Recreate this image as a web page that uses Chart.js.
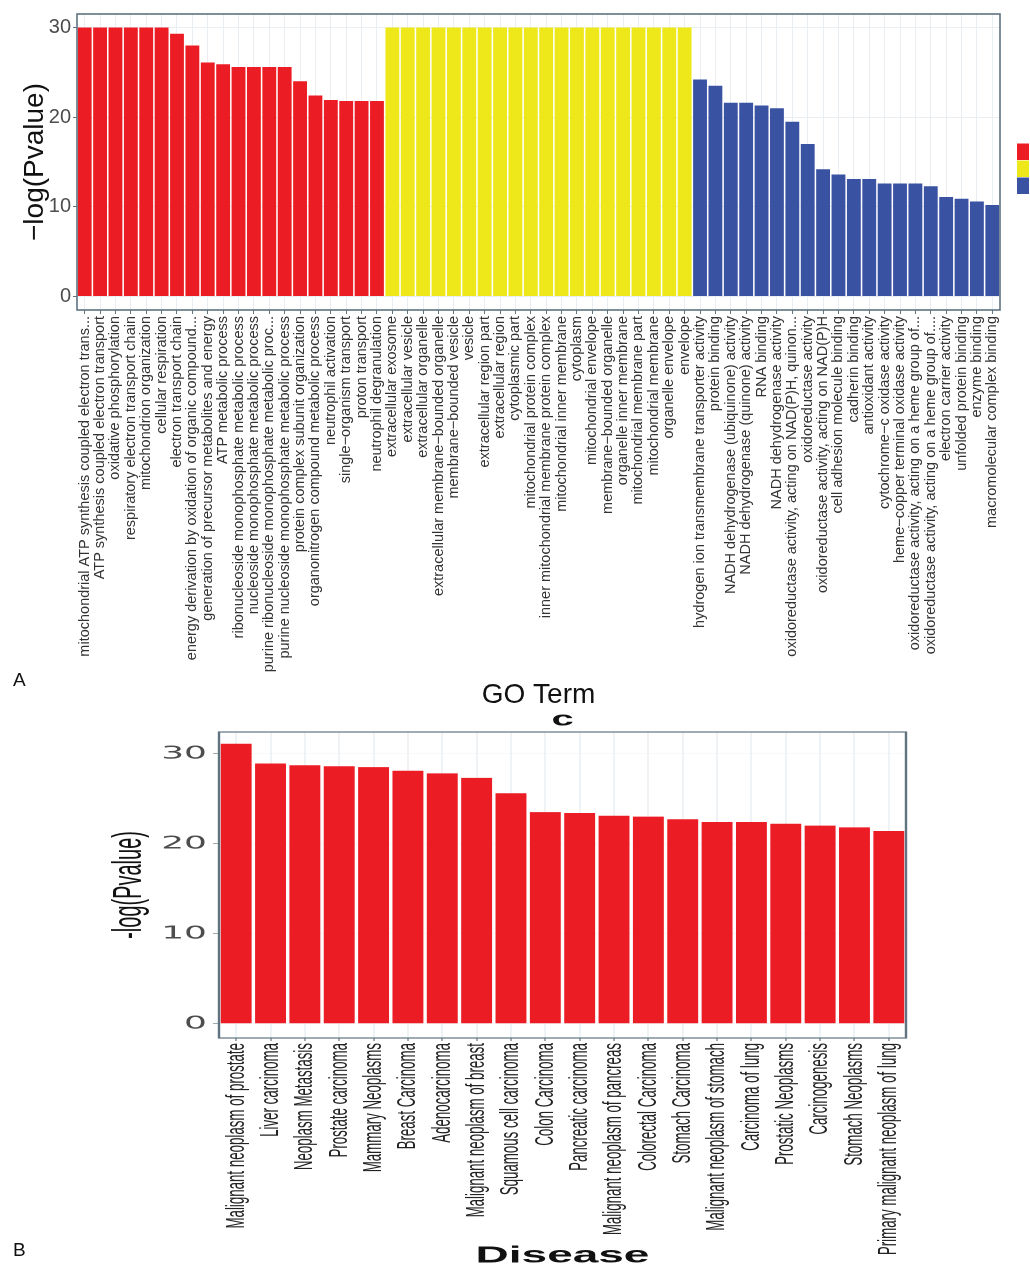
<!DOCTYPE html>
<html>
<head>
<meta charset="utf-8">
<script src="https://cdn.jsdelivr.net/npm/chart.js@4.4.1/dist/chart.umd.min.js"></script>
<style>
  html, body { margin: 0; padding: 0; background: #ffffff; }
  body { width: 1030px; height: 1269px; position: relative; overflow: hidden; font-family: "Liberation Sans", Arial, sans-serif; }
  #goChart { position: absolute; left: 0; top: 0; }
  #diseaseChart { position: absolute; left: 0; top: 698px; transform: scaleX(2); transform-origin: 0 0; }
  .panel-tag { position: absolute; font-size: 19px; color: #111; line-height: 1; }
</style>
</head>
<body>
<canvas id="goChart" width="1030" height="715"></canvas>
<canvas id="diseaseChart" width="515" height="571"></canvas>
<div class="panel-tag" style="left:13px; top:670px;">A</div>
<div class="panel-tag" style="left:13px; top:1240px;">B</div>
<script>
// ---- GO enrichment: biological process ----
const bpTerms = [
  "mitochondrial ATP synthesis coupled electron trans...",
  "ATP synthesis coupled electron transport",
  "oxidative phosphorylation",
  "respiratory electron transport chain",
  "mitochondrion organization",
  "cellular respiration",
  "electron transport chain",
  "energy derivation by oxidation of organic compound...",
  "generation of precursor metabolites and energy",
  "ATP metabolic process",
  "ribonucleoside monophosphate metabolic process",
  "nucleoside monophosphate metabolic process",
  "purine ribonucleoside monophosphate metabolic proc...",
  "purine nucleoside monophosphate metabolic process",
  "protein complex subunit organization",
  "organonitrogen compound metabolic process",
  "neutrophil activation",
  "single\u2212organism transport",
  "proton transport",
  "neutrophil degranulation"
];
const bpValues = [30, 30, 30, 30, 30, 30, 29.3, 28.0, 26.1, 25.9, 25.6, 25.6, 25.6, 25.6, 24.0, 22.4, 21.9, 21.8, 21.8, 21.8];

// ---- GO enrichment: cellular component ----
const ccTerms = [
  "extracellular exosome",
  "extracellular vesicle",
  "extracellular organelle",
  "extracellular membrane\u2212bounded organelle",
  "membrane\u2212bounded vesicle",
  "vesicle",
  "extracellular region part",
  "extracellular region",
  "cytoplasmic part",
  "mitochondrial protein complex",
  "inner mitochondrial membrane protein complex",
  "mitochondrial inner membrane",
  "cytoplasm",
  "mitochondrial envelope",
  "membrane\u2212bounded organelle",
  "organelle inner membrane",
  "mitochondrial membrane part",
  "mitochondrial membrane",
  "organelle envelope",
  "envelope"
];
const ccValues = [30, 30, 30, 30, 30, 30, 30, 30, 30, 30, 30, 30, 30, 30, 30, 30, 30, 30, 30, 30];

// ---- GO enrichment: molecular function ----
const mfTerms = [
  "hydrogen ion transmembrane transporter activity",
  "protein binding",
  "NADH dehydrogenase (ubiquinone) activity",
  "NADH dehydrogenase (quinone) activity",
  "RNA binding",
  "NADH dehydrogenase activity",
  "oxidoreductase activity, acting on NAD(P)H, quinon...",
  "oxidoreductase activity",
  "oxidoreductase activity, acting on NAD(P)H",
  "cell adhesion molecule binding",
  "cadherin binding",
  "antioxidant activity",
  "cytochrome\u2212c oxidase activity",
  "heme\u2212copper terminal oxidase activity",
  "oxidoreductase activity, acting on a heme group of...",
  "oxidoreductase activity, acting on a heme group of....",
  "electron carrier activity",
  "unfolded protein binding",
  "enzyme binding",
  "macromolecular complex binding"
];
const mfValues = [24.2, 23.5, 21.6, 21.6, 21.3, 21.0, 19.5, 17.0, 14.2, 13.6, 13.1, 13.1, 12.6, 12.6, 12.6, 12.3, 11.1, 10.9, 10.6, 10.2];

const groupColors = ["#ec1c24", "#eee81a", "#3a52a2"];
const goTicks = [0, 10, 20, 30];

// ---- Disease enrichment ----
const diseaseNames = [
  "Malignant neoplasm of prostate",
  "Liver carcinoma",
  "Neoplasm Metastasis",
  "Prostate carcinoma",
  "Mammary Neoplasms",
  "Breast Carcinoma",
  "Adenocarcinoma",
  "Malignant neoplasm of breast",
  "Squamous cell carcinoma",
  "Colon Carcinoma",
  "Pancreatic carcinoma",
  "Malignant neoplasm of pancreas",
  "Colorectal Carcinoma",
  "Stomach Carcinoma",
  "Malignant neoplasm of stomach",
  "Carcinoma of lung",
  "Prostatic Neoplasms",
  "Carcinogenesis",
  "Stomach Neoplasms",
  "Primary malignant neoplasm of lung"
];
const diseaseValues = [31.1, 28.9, 28.7, 28.6, 28.5, 28.1, 27.8, 27.3, 25.6, 23.5, 23.4, 23.1, 23.0, 22.7, 22.4, 22.4, 22.2, 22.0, 21.8, 21.4];
const diseaseTicks = [0, 10, 20, 30];

// panel frame drawn around the plotting area
const framePlugin = {
  id: "frame",
  afterDatasetsDraw(chart, args, opts) {
    const { ctx, chartArea: a } = chart;
    ctx.save();
    ctx.strokeStyle = opts.color || "#5f7480";
    ctx.lineWidth = opts.width || 1.5;
    ctx.strokeRect(a.left, a.top, a.right - a.left, a.bottom - a.top);
    ctx.restore();
  }
};

// colour keys for the three GO categories
const keyPlugin = {
  id: "groupKeys",
  afterDraw(chart, args, opts) {
    if (!opts.colors) return;
    const { ctx, chartArea: a } = chart;
    const h = 17, w = 12;
    const y0 = (a.top + a.bottom) / 2 + 7 - h * opts.colors.length / 2;
    ctx.save();
    opts.colors.forEach((c, i) => {
      ctx.fillStyle = c;
      ctx.fillRect(a.right + 17, y0 + i * h, w, h - 0.5);
    });
    ctx.restore();
  }
};

Chart.register(framePlugin, keyPlugin);

const goLabels = bpTerms.concat(ccTerms, mfTerms);
const goValues = bpValues.concat(ccValues, mfValues);
const goColors = []
  .concat(bpValues.map(() => groupColors[0]))
  .concat(ccValues.map(() => groupColors[1]))
  .concat(mfValues.map(() => groupColors[2]));

new Chart(document.getElementById("goChart"), {
  type: "bar",
  data: {
    labels: goLabels,
    datasets: [{
      data: goValues,
      backgroundColor: goColors,
      borderWidth: 0,
      barPercentage: 0.9,
      categoryPercentage: 1
    }]
  },
  options: {
    responsive: false,
    animation: false,
    devicePixelRatio: 1,
    layout: { padding: { top: 10, right: 30, left: 0, bottom: 0 } },
    plugins: {
      legend: { display: false },
      tooltip: { enabled: false },
      frame: { color: "#5f7480", width: 1.6 },
      groupKeys: { colors: groupColors }
    },
    scales: {
      x: {
        type: "category",
        offset: true,
        afterFit(s) { s.height = 405; },
        grid: { offset: false, color: "#e8eef2", tickColor: "#5f7480", tickLength: 4, lineWidth: 1 },
        border: { display: false },
        ticks: {
          autoSkip: false, minRotation: 90, maxRotation: 90, padding: 2,
          color: "#333333", font: { family: "Liberation Sans", size: 14.5 }
        },
        title: {
          display: true, text: "GO Term", color: "#111111",
          font: { family: "Liberation Sans", size: 28, lineHeight: 1 },
          padding: { top: 0, bottom: 6 }
        }
      },
      y: {
        min: -1.5, max: 31.5,
        afterBuildTicks(s) { s.ticks = goTicks.map(v => ({ value: v })); },
        afterFit(s) { s.width = 77; },
        grid: { color: "#e8eef2", tickColor: "#5f7480", tickLength: 4 },
        border: { display: false },
        ticks: { color: "#4d4d4d", padding: 2, font: { family: "Liberation Sans", size: 20 } },
        title: {
          display: true, text: "\u2212log(Pvalue)", color: "#111111",
          font: { family: "Liberation Sans", size: 28, lineHeight: 1 },
          padding: { top: 21, bottom: 0 }
        }
      }
    }
  }
});

new Chart(document.getElementById("diseaseChart"), {
  type: "bar",
  data: {
    labels: diseaseNames,
    datasets: [{
      data: diseaseValues,
      backgroundColor: "#ec1c24",
      borderWidth: 0,
      barPercentage: 0.9,
      categoryPercentage: 1
    }]
  },
  options: {
    responsive: false,
    animation: false,
    devicePixelRatio: 2,
    layout: { padding: { top: 0, right: 62, left: 0, bottom: 0 } },
    plugins: {
      legend: { display: false },
      tooltip: { enabled: false },
      frame: { color: "#5f7480", width: 1.2 },
      title: {
        display: true, text: "c", color: "#111111", fullSize: false,
        font: { family: "Liberation Sans", size: 20, weight: "bold", lineHeight: 1 },
        padding: { top: 12, bottom: 2 }
      }
    },
    scales: {
      x: {
        type: "category",
        offset: true,
        afterFit(s) { s.height = 231; },
        grid: { offset: false, color: "#e6ebef", tickColor: "#5f7480", tickLength: 3, lineWidth: 0.6 },
        border: { display: false },
        ticks: {
          autoSkip: false, minRotation: 90, maxRotation: 90, padding: 2,
          color: "#222222", font: { family: "Liberation Sans", size: 13.3 }
        },
        title: {
          display: true, text: "Disease", color: "#111111",
          font: { family: "Liberation Sans", size: 23, weight: "bold", lineHeight: 1 },
          padding: { top: 0, bottom: 1.5 }
        }
      },
      y: {
        min: -1.6, max: 32.4,
        afterBuildTicks(s) { s.ticks = diseaseTicks.map(v => ({ value: v })); },
        afterFit(s) { s.width = 109.5; },
        grid: { color: "#eef1f4", tickColor: "#5f7480", tickLength: 3, lineWidth: 0.6 },
        border: { display: false },
        ticks: { color: "#4d4d4d", padding: 3, font: { family: "DejaVu Sans", size: 18 } },
        title: {
          display: true, text: "-log(Pvalue)", color: "#111111",
          font: { family: "Liberation Sans", size: 20, lineHeight: 1.2 },
          padding: { top: 53, bottom: 0 }
        }
      }
    }
  }
});
</script>
</body>
</html>
